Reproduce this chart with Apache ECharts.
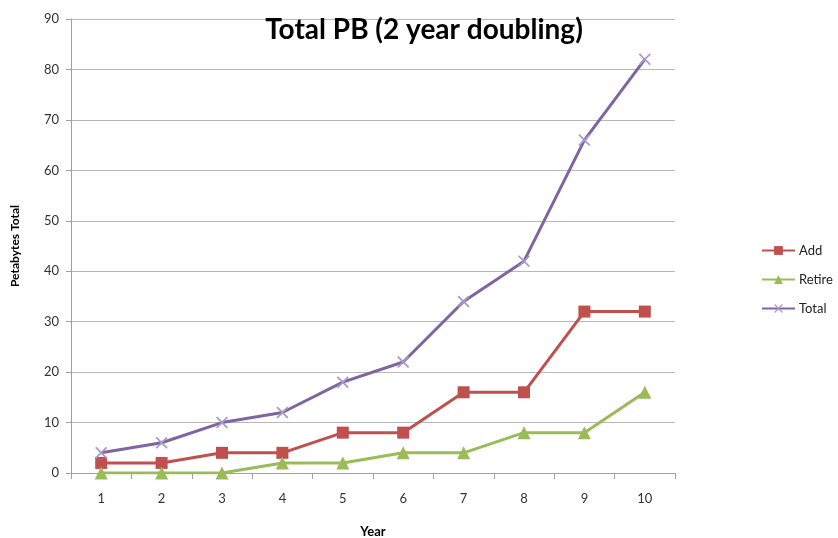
<!DOCTYPE html>
<html>
<head>
<meta charset="utf-8">
<script src="https://cdn.jsdelivr.net/npm/echarts@6/dist/echarts.min.js"></script>
<style>
  html, body { margin: 0; padding: 0; background: #fff; }
  #chart { width: 838px; height: 538px; }
</style>
</head>
<body>
<div id="chart"></div>
<script>
// values
const years = ['1', '2', '3', '4', '5', '6', '7', '8', '9', '10']
const addData = [2, 2, 4, 4, 8, 8, 16, 16, 32, 32]
const retireData = [0, 0, 0, 2, 2, 4, 4, 8, 8, 16]
const totalData = [4, 6, 10, 12, 18, 22, 34, 42, 66, 82]

const crossPath = 'path://M0,1L1,0L5,4L9,0L10,1L6,5L10,9L9,10L5,6L1,10L0,9L4,5Z'
const font = 'Lato'

let myChart = echarts.init(document.getElementById('chart'))
var option = {
  backgroundColor: '#fff',
  textStyle: { fontFamily: font },
  title: {
    text: 'Total PB (2 year doubling)',
    left: 419,
    top: 11,
    textAlign: 'center',
    textStyle: { fontSize: 28, fontWeight: 'bold', color: '#000', fontFamily: font }
  },
  legend: {
    orient: 'vertical',
    left: 756,
    top: 239,
    itemGap: 16,
    itemWidth: 33,
    itemHeight: 11,
    textStyle: { fontSize: 13, color: '#222', fontFamily: font, padding: [0, 0, 0, -1] },
    data: ['Add', 'Retire', 'Total']
  },
  grid: { left: 71, right: 163, top: 19, bottom: 65, outerBoundsMode: 'none' },
  xAxis: {
    type: 'category',
    data: years,
    boundaryGap: true,
    name: 'Year',
    nameLocation: 'middle',
    nameGap: 52,
    nameTextStyle: { fontWeight: 'bold', fontSize: 13, color: '#000', fontFamily: font },
    axisLine: { lineStyle: { color: '#a0a0a0' } },
    axisTick: { show: true, length: 6, alignWithLabel: false, lineStyle: { color: '#a0a0a0' } },
    axisLabel: { color: '#333', fontSize: 13, margin: 19 }
  },
  yAxis: {
    type: 'value',
    min: 0,
    max: 90,
    interval: 10,
    name: 'Petabytes Total',
    nameLocation: 'middle',
    nameGap: 50,
    nameTextStyle: { fontWeight: 'bold', fontSize: 12, color: '#000', fontFamily: font },
    axisLine: { show: true, lineStyle: { color: '#a0a0a0' } },
    axisTick: { show: true, length: 5, lineStyle: { color: '#a0a0a0' } },
    axisLabel: { color: '#333', fontSize: 13, margin: 12 },
    splitLine: { lineStyle: { color: '#b8b8b8' } }
  },
  series: [
    {
      name: 'Add',
      type: 'line',
      data: addData,
      symbol: 'rect',
      symbolSize: 12,
      lineStyle: { width: 3, color: '#c0504d' },
      itemStyle: { color: '#c0504d' }
    },
    {
      name: 'Retire',
      type: 'line',
      data: retireData,
      symbol: 'triangle',
      symbolSize: 13,
      lineStyle: { width: 3, color: '#9bbb59' },
      itemStyle: { color: '#9bbb59' }
    },
    {
      name: 'Total',
      type: 'line',
      data: totalData,
      symbol: crossPath,
      symbolSize: 12,
      lineStyle: { width: 3, color: '#8064a2' },
      itemStyle: { color: '#a898c8' }
    }
  ]
}
myChart.setOption(option)
</script>
</body>
</html>
